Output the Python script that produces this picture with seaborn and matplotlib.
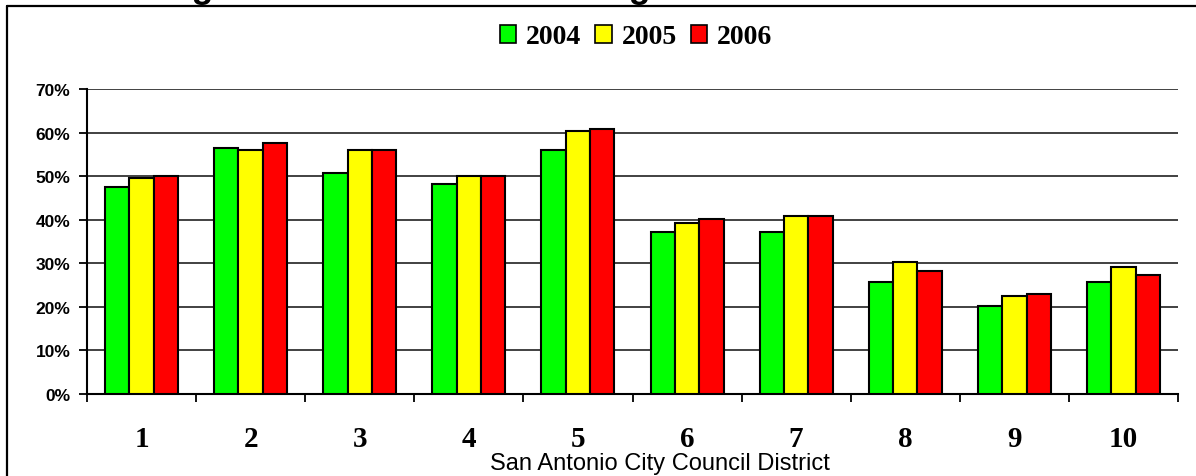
import numpy as np
import pandas as pd
import matplotlib
matplotlib.use("Agg")
import matplotlib.pyplot as plt
import seaborn as sns
from matplotlib.lines import Line2D
from matplotlib.patches import Patch

# values (percent)
districts = ["1", "2", "3", "4", "5", "6", "7", "8", "9", "10"]
years = ["2004", "2005", "2006"]
pct_2004 = [47.6, 56.4, 50.8, 48.1, 55.9, 37.2, 37.2, 25.7, 20.2, 25.7]
pct_2005 = [49.6, 56.0, 55.9, 50.0, 60.4, 39.3, 40.8, 30.2, 22.6, 29.2]
pct_2006 = [50.0, 57.5, 55.9, 50.0, 60.8, 40.1, 40.8, 28.2, 23.0, 27.3]
y_ticks = [0, 10, 20, 30, 40, 50, 60, 70]
colors = {"2004": "#00FF00", "2005": "#FFFF00", "2006": "#FF0000"}
title = "Births to Single Mothers as a Percentage of All Births"

df = pd.DataFrame({
    "district": districts * 3,
    "year": [y for y in years for _ in districts],
    "pct": pct_2004 + pct_2005 + pct_2006,
})

sns.set_style("white")
plt.rcParams["font.family"] = ["Liberation Sans", "DejaVu Sans"]
plt.rcParams["text.color"] = "black"
plt.rcParams["xtick.color"] = "black"
plt.rcParams["ytick.color"] = "black"

W, H = 1196, 477
fig = plt.figure(figsize=(W / 100, H / 100), dpi=100)
ax = fig.add_axes([87 / W, 1 - 395 / H, (1178 - 87) / W, (395 - 90) / H])

sns.barplot(data=df, x="district", y="pct", hue="year", order=districts,
            hue_order=years, palette=colors, width=0.67, gap=0,
            edgecolor="black", linewidth=1.5, saturation=1, ax=ax, zorder=3)

ax.set_ylim(0, 70)
ax.set_xlim(-0.5, len(districts) - 0.5)
ax.set_yticks(y_ticks)
ax.set_yticklabels([f"{v}%" for v in y_ticks], fontsize=12.5, fontweight="bold")
ax.yaxis.grid(True, color="#333333", linewidth=1.3, zorder=0)
ax.set_axisbelow(True)
ax.tick_params(axis="y", direction="out", length=6, width=1.3, pad=6, left=True)

# district labels centred, tick marks at the group boundaries
ax.set_xticks(np.arange(len(districts)))
ax.set_xticklabels(districts, fontsize=21, fontweight="bold", family="Liberation Serif")
ax.set_xticks(np.arange(len(districts) + 1) - 0.5, minor=True)
ax.tick_params(axis="x", which="major", length=0, pad=22)
ax.tick_params(axis="x", which="minor", direction="out", length=6, width=1.3, bottom=True)
ax.set_xlabel("")
ax.set_ylabel("")

for side in ["top", "right"]:
    ax.spines[side].set_visible(False)
for side in ["left", "bottom"]:
    ax.spines[side].set_color("black")
    ax.spines[side].set_linewidth(1.5)

ax.get_legend().remove()
handles = [Patch(facecolor=colors[y], edgecolor="black", linewidth=1.2, label=y) for y in years]
fig.legend(handles=handles, loc="center", bbox_to_anchor=(636 / W, 1 - 38 / H), ncol=3,
           frameon=False, handlelength=0.6, handleheight=0.6, handletextpad=0.35,
           columnspacing=0.5, prop={"family": "Liberation Serif", "weight": "bold", "size": 20})

fig.text(660 / W, 1 - 464 / H, "San Antonio City Council District", ha="center", va="center",
         fontsize=17)

# title sits mostly above the visible canvas, as in the reference
fig.text(430 / W, 1 + 1.5 / H, title, ha="center", va="baseline", fontsize=25.5, fontweight="bold")

# outer chart frame (left and top edges only are visible)
fy = 1 - 7 / H
fx = 7 / W
fig.add_artist(Line2D([fx, 1], [fy, fy], transform=fig.transFigure, color="black", linewidth=1.6))
fig.add_artist(Line2D([fx, fx], [0, fy], transform=fig.transFigure, color="black", linewidth=1.6))

fig.savefig("out.png", dpi=100, facecolor="white")
